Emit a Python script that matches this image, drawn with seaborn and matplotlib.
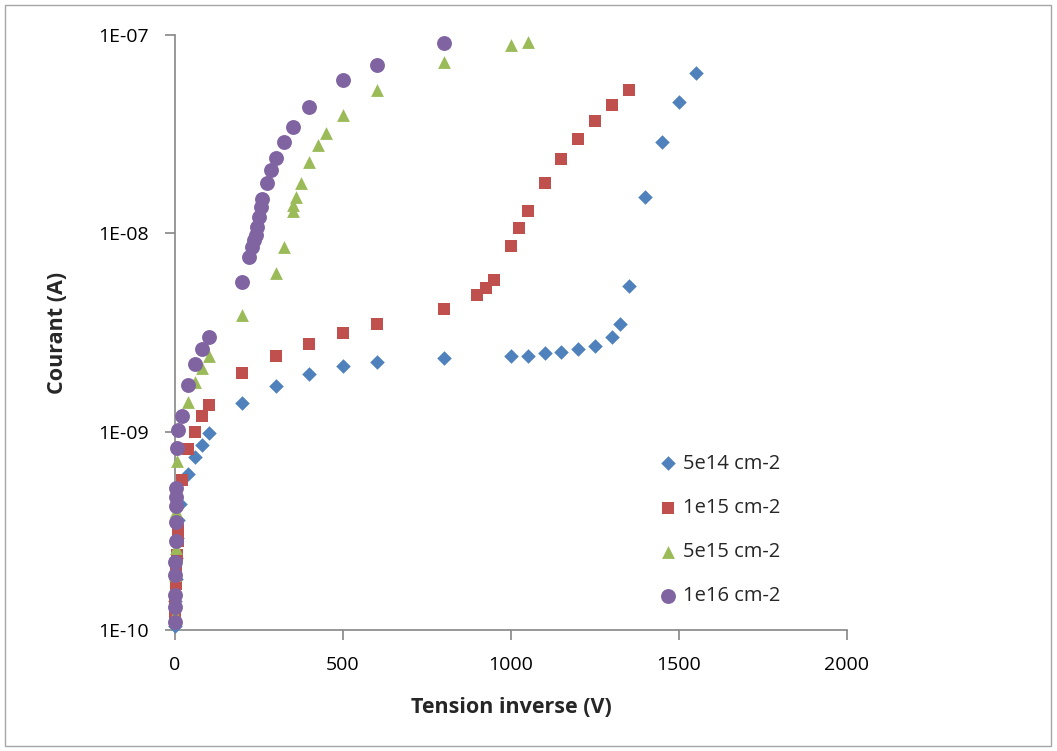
import numpy as np
import pandas as pd
import matplotlib
matplotlib.use("Agg")
import matplotlib.pyplot as plt
import seaborn as sns

# ── Data ─────────────────────────────────────────────────────
labels = ["5e14 cm-2", "1e15 cm-2", "5e15 cm-2", "1e16 cm-2"]

v_5e14 = [0, 1, 2, 3, 5, 10, 15, 40, 60, 80, 100, 200, 300, 400, 500, 600, 800,
          1000, 1050, 1100, 1150, 1200, 1250, 1300, 1325, 1350, 1400, 1450, 1500, 1550]
i_5e14 = [1.05e-10, 1.4e-10, 1.8e-10, 2.3e-10, 2.9e-10, 3.6e-10, 4.3e-10, 6.1e-10,
          7.5e-10, 8.6e-10, 9.8e-10, 1.4e-9, 1.7e-9, 1.95e-9, 2.14e-9, 2.25e-9, 2.34e-9,
          2.4e-9, 2.42e-9, 2.48e-9, 2.52e-9, 2.6e-9, 2.7e-9, 3.0e-9, 3.5e-9, 5.4e-9,
          1.52e-8, 2.9e-8, 4.6e-8, 6.4e-8]

v_1e15 = [0, 1, 2, 3, 5, 8, 10, 20, 40, 60, 80, 100, 200, 300, 400, 500, 600, 800,
          900, 925, 950, 1000, 1025, 1050, 1100, 1150, 1200, 1250, 1300, 1350]
i_1e15 = [1.2e-10, 1.35e-10, 1.7e-10, 2.0e-10, 2.4e-10, 2.8e-10, 3.2e-10, 5.7e-10,
          8.2e-10, 1.0e-9, 1.2e-9, 1.36e-9, 1.97e-9, 2.4e-9, 2.77e-9, 3.15e-9, 3.5e-9,
          4.17e-9, 4.9e-9, 5.3e-9, 5.8e-9, 8.6e-9, 1.06e-8, 1.29e-8, 1.79e-8, 2.37e-8,
          3.0e-8, 3.7e-8, 4.45e-8, 5.3e-8]

v_5e15 = [0, 1, 2, 3, 5, 40, 60, 80, 100, 200, 300, 325, 350, 352, 360, 375, 400,
          425, 450, 500, 600, 800, 1000, 1050]
i_5e15 = [1.2e-10, 1.9e-10, 2.6e-10, 4.0e-10, 7.1e-10, 1.42e-9, 1.79e-9, 2.1e-9,
          2.4e-9, 3.87e-9, 6.3e-9, 8.5e-9, 1.3e-8, 1.39e-8, 1.53e-8, 1.8e-8, 2.3e-8,
          2.79e-8, 3.2e-8, 3.95e-8, 5.3e-8, 7.3e-8, 8.9e-8, 9.25e-8]

v_1e16 = [0, 0, 0, 1, 1, 2, 2, 3, 3, 4, 5, 10, 20, 40, 60, 80, 100, 200, 220, 230,
          235, 240, 245, 250, 255, 260, 275, 285, 300, 325, 350, 400, 500, 600, 800]
i_1e16 = [1.1e-10, 1.3e-10, 1.5e-10, 1.9e-10, 2.2e-10, 2.8e-10, 3.5e-10, 4.2e-10,
          4.7e-10, 5.2e-10, 8.3e-10, 1.02e-9, 1.2e-9, 1.73e-9, 2.2e-9, 2.6e-9, 3.0e-9,
          5.7e-9, 7.6e-9, 8.5e-9, 9.3e-9, 9.8e-9, 1.08e-8, 1.21e-8, 1.36e-8, 1.49e-8,
          1.79e-8, 2.09e-8, 2.39e-8, 2.9e-8, 3.43e-8, 4.35e-8, 5.9e-8, 7.1e-8, 9.15e-8]

xticks = [0, 500, 1000, 1500, 2000]
yticks = [1e-10, 1e-9, 1e-8, 1e-7]
ytick_labels = ["1E-10", "1E-09", "1E-08", "1E-07"]

# ── Long-form table for seaborn ──────────────────────────────
frames = []
for lab, v, i in zip(labels, [v_5e14, v_1e15, v_5e15, v_1e16],
                     [i_5e14, i_1e15, i_5e15, i_1e16]):
    frames.append(pd.DataFrame({"V": v, "I": i, "dose": lab}))
df = pd.concat(frames, ignore_index=True)

palette = {labels[0]: "#4F81BD", labels[1]: "#C0504D",
           labels[2]: "#9BBB59", labels[3]: "#8064A2"}
markers = {labels[0]: "D", labels[1]: "s", labels[2]: "^", labels[3]: "o"}
sizes = {labels[0]: 55, labels[1]: 85, labels[2]: 85, labels[3]: 115}

# ── Plot ─────────────────────────────────────────────────────
sns.set_style("white")
plt.rcParams["font.family"] = ["Open Sans", "DejaVu Sans"]

fig = plt.figure(figsize=(10.57, 7.51), dpi=100)
ax = fig.add_axes([0.1656, 0.161, 0.6357, 0.7924])

for lab in labels:
    sub = df[df["dose"] == lab]
    sns.scatterplot(data=sub, x="V", y="I", ax=ax, color=palette[lab],
                    marker=markers[lab], s=sizes[lab], linewidth=0,
                    label=lab, clip_on=False, zorder=3)

ax.set_yscale("log")
ax.set_xlim(0, 2000)
ax.set_ylim(1e-10, 1e-7)
ax.set_xticks(xticks)
ax.set_xticklabels([str(t) for t in xticks])
ax.set_yticks(yticks)
ax.set_yticklabels(ytick_labels)
ax.yaxis.set_minor_locator(matplotlib.ticker.NullLocator())

for side in ["top", "right"]:
    ax.spines[side].set_visible(False)
for side in ["left", "bottom"]:
    ax.spines[side].set_color("#868686")
    ax.spines[side].set_linewidth(1.2)

# seaborn's "white" style switches the tick marks off, turn them back on
ax.tick_params(axis="both", which="major", direction="out", length=7,
               width=1.2, color="#868686", labelsize=14, labelcolor="#000000",
               left=True, bottom=True, pad=12)

ax.set_xlabel("Tension inverse (V)", fontsize=15.5, fontweight="bold")
ax.set_ylabel("Courant (A)", fontsize=15.5, fontweight="bold")
ax.xaxis.set_label_coords(0.5, -0.112)
ax.yaxis.set_label_coords(-0.16, 0.5)

ax.legend(loc="upper left", bbox_to_anchor=(0.703, 0.31), frameon=False,
          fontsize=14.5, labelspacing=1.2, handletextpad=0.15,
          borderaxespad=0, handlelength=1.2)

# thin chart-area border, as in the Excel original
fig.patches.append(plt.Rectangle((5 / 1057, 5 / 751), 1046 / 1057, 741 / 751,
                                 transform=fig.transFigure, fill=False,
                                 edgecolor="#A6A6A6", linewidth=1))

fig.savefig("out.png", dpi=100)
